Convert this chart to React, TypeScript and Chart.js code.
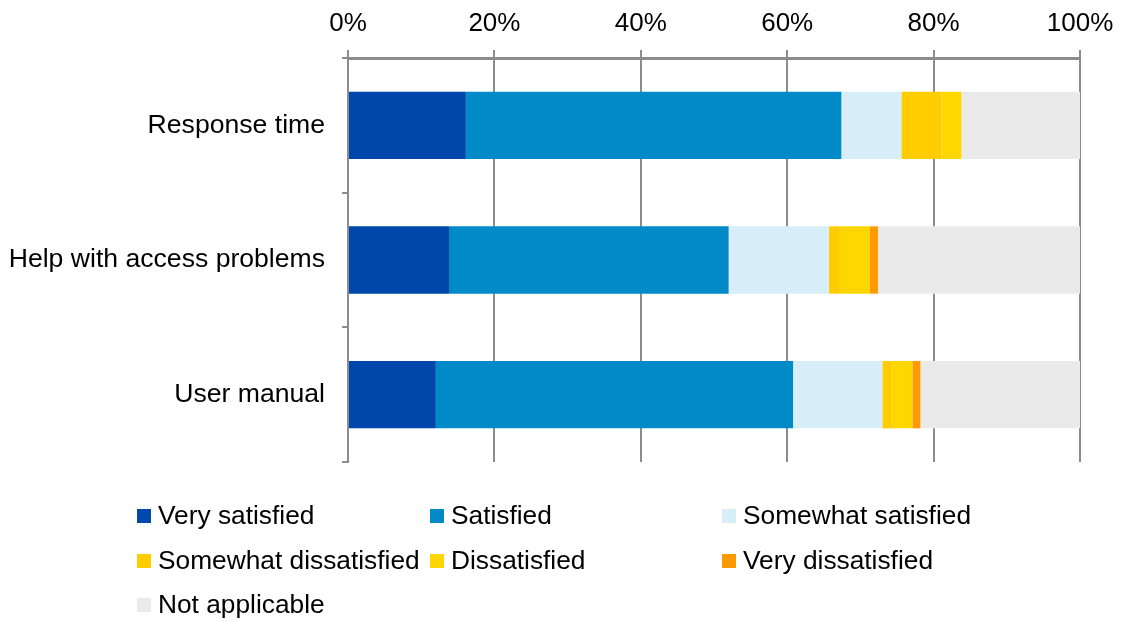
import React, { useEffect, useRef } from "react";
import { Chart, registerables } from "chart.js";

Chart.register(...registerables);

const categories = ["Response time", "Help with access problems", "User manual"];
const seriesNames = [
  "Very satisfied",
  "Satisfied",
  "Somewhat satisfied",
  "Somewhat dissatisfied",
  "Dissatisfied",
  "Very dissatisfied",
  "Not applicable",
];
const verySatisfied = [16.1, 13.8, 12.0];
const satisfied = [51.3, 38.2, 48.8];
const somewhatSatisfied = [8.2, 13.7, 12.2];
const somewhatDissatisfied = [5.5, 1.5, 1.2];
const dissatisfied = [2.7, 4.1, 2.9];
const veryDissatisfied = [0, 1.1, 1.1];
const notApplicable = [16.2, 27.6, 21.8];
const tickValues = [0, 20, 40, 60, 80, 100];

const colors = ["#0047ab", "#008ac8", "#d7eef9", "#ffcc00", "#ffd700", "#ff9900", "#eaeaea"];
const FONT = "'Liberation Sans', Arial, sans-serif";

const legendPlugin = {
  id: "gridLegend",
  afterDraw(chart: any) {
    const ctx = chart.ctx;
    const cols = [137, 430, 722];
    const rows = [516, 561, 605];
    ctx.save();
    ctx.font = `26.3px ${FONT}`;
    ctx.textBaseline = "middle";
    ctx.textAlign = "left";
    chart.data.datasets.forEach((ds: any, i: number) => {
      const x = cols[i % 3];
      const y = rows[Math.floor(i / 3)];
      ctx.fillStyle = ds.backgroundColor;
      ctx.fillRect(x, y - 7, 14, 14);
      ctx.fillStyle = "#000";
      ctx.fillText(ds.label, x + 21, y + 1);
    });
    ctx.restore();
  },
};

export default function App() {
  const ref = useRef<HTMLCanvasElement | null>(null);
  useEffect(() => {
    if (!ref.current) return;
    const data = [
      verySatisfied,
      satisfied,
      somewhatSatisfied,
      somewhatDissatisfied,
      dissatisfied,
      veryDissatisfied,
      notApplicable,
    ];
    const chart = new Chart(ref.current, {
      type: "bar",
      data: {
        labels: categories,
        datasets: data.map((d, i) => ({
          label: seriesNames[i],
          data: d,
          backgroundColor: colors[i],
          borderWidth: 0,
          barPercentage: 0.5,
          categoryPercentage: 1,
        })),
      },
      options: {
        indexAxis: "y",
        animation: false,
        responsive: false,
        maintainAspectRatio: false,
        layout: { padding: { top: 0, left: 0, right: 45, bottom: 160 } },
        plugins: { legend: { display: false }, tooltip: { enabled: false } },
        scales: {
          x: {
            position: "top",
            stacked: true,
            min: 0,
            max: 100,
            afterFit: (s: any) => {
              s.height = 58;
            },
            afterBuildTicks: (s: any) => {
              s.ticks = tickValues.map((v) => ({ value: v }));
            },
            ticks: {
              callback: (v: any) => v + "%",
              color: "#000",
              font: { family: FONT, size: 26 },
              padding: 11,
              maxRotation: 0,
            },
            grid: { color: "#8c8c8c", lineWidth: 2, tickLength: 8 },
            border: { color: "#8c8c8c", width: 3 },
          },
          y: {
            stacked: true,
            afterFit: (s: any) => {
              s.width = 348;
            },
            ticks: {
              color: "#000",
              font: { family: FONT, size: 26.6 },
              padding: 17,
            },
            grid: { offset: true, drawOnChartArea: false, color: "#8c8c8c", lineWidth: 2, tickLength: 6 },
            border: { color: "#8c8c8c", width: 2 },
          },
        },
      },
      plugins: [legendPlugin],
    } as any);
    return () => chart.destroy();
  }, []);
  return (
    <div style={{ position: "fixed", left: 0, top: 0, width: 1125, height: 622, background: "#fff" }}>
      <canvas ref={ref} width={1125} height={622} style={{ width: 1125, height: 622 }} />
    </div>
  );
}
